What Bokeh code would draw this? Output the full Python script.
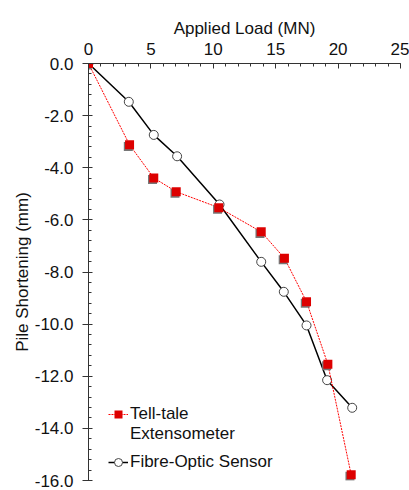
from bokeh.plotting import figure
from bokeh.models import Range1d, LinearAxis, FixedTicker, NumeralTickFormatter, Legend, LegendItem, ColumnDataSource
from bokeh.transform import dodge
from bokeh.embed import file_html
from bokeh.resources import INLINE

# Data
tt_load = [0, 3.29, 5.23, 7.03, 10.44, 13.84, 15.7, 17.47, 19.18, 21.05]
tt_short = [0, -3.12, -4.39, -4.92, -5.53, -6.46, -7.47, -9.14, -11.54, -15.78]
fo_load = [0, 3.23, 5.23, 7.1, 10.5, 13.84, 15.65, 17.47, 19.12, 21.13]
fo_short = [0, -1.47, -2.74, -3.56, -5.41, -7.61, -8.76, -10.05, -12.15, -13.21]
x_ticks = [0, 5, 10, 15, 20, 25]
y_ticks = [0, -2, -4, -6, -8, -10, -12, -14, -16]

FONT = "Liberation Sans"
FS = "17px"

p = figure(width=409, height=490, output_backend="svg", toolbar_location=None,
           x_range=Range1d(0, 25), y_range=Range1d(-16, 0),
           x_axis_location=None, y_axis_location=None,
           min_border_left=88, min_border_right=9, min_border_top=63, min_border_bottom=10)
p.outline_line_color = None
p.xgrid.visible = False
p.ygrid.visible = False

xa = LinearAxis(axis_label="Applied Load (MN)", ticker=FixedTicker(ticks=x_ticks, minor_ticks=list(range(0, 26))))
xa.major_tick_in = 5
xa.major_tick_out = 0
xa.minor_tick_in = 3
xa.minor_tick_out = 0
xa.axis_line_color = "#333333"
xa.major_tick_line_color = "#333333"
xa.minor_tick_line_color = "#333333"
xa.major_label_text_font = FONT
xa.major_label_text_font_size = FS
xa.major_label_text_color = "#111111"
xa.axis_label_text_font = FONT
xa.axis_label_text_font_size = FS
xa.axis_label_text_font_style = "normal"
xa.axis_label_text_color = "#111111"
xa.axis_label_standoff = 2
xa.major_label_standoff = 9
p.add_layout(xa, "above")

ya = LinearAxis(axis_label="Pile Shortening (mm)", ticker=FixedTicker(ticks=y_ticks, minor_ticks=[-0.4 * i for i in range(41)]),
                formatter=NumeralTickFormatter(format="0.0"))
ya.major_tick_in = 4
ya.major_tick_out = 6
ya.minor_tick_in = 3
ya.minor_tick_out = 0
ya.axis_line_color = "#333333"
ya.major_tick_line_color = "#333333"
ya.minor_tick_line_color = "#333333"
ya.major_label_text_font = FONT
ya.major_label_text_font_size = FS
ya.major_label_text_color = "#111111"
ya.axis_label_text_font = FONT
ya.axis_label_text_font_size = FS
ya.axis_label_text_font_style = "normal"
ya.axis_label_text_color = "#111111"
ya.axis_label_standoff = 0
ya.major_label_standoff = 9
p.add_layout(ya, "left")

tt = ColumnDataSource(dict(x=tt_load, y=tt_short))
fo = ColumnDataSource(dict(x=fo_load, y=fo_short))

# Fibre-optic
fo_line = p.line("x", "y", source=fo, line_color="black", line_width=1.5)
fo_mark = p.scatter("x", "y", source=fo, marker="circle", size=9, fill_color="white",
                    line_color="#444444", line_width=1)

# Tell-tale
tt_line = p.line("x", "y", source=tt, line_color="red", line_width=1, line_dash="2 1")
p.scatter(dodge("x", -0.1), dodge("y", -0.06), source=tt, marker="square", size=9,
          fill_color="#777777", line_color=None)
tt_mark = p.scatter("x", "y", source=tt, marker="square", size=9, fill_color="#dd0000", line_color=None)


def style(leg):
    leg.background_fill_alpha = 0
    leg.border_line_color = None
    leg.label_text_font = FONT
    leg.label_text_font_size = FS
    leg.label_text_color = "#111111"
    leg.label_height = 20
    leg.glyph_height = 20
    leg.glyph_width = 20
    leg.label_standoff = 2
    leg.spacing = 0
    leg.padding = 0
    leg.margin = 0


legend1 = Legend(items=[
    LegendItem(label="Tell-tale", renderers=[tt_line, tt_mark]),
    LegendItem(label="Extensometer", renderers=[]),
], location=(20, 36))
style(legend1)
p.add_layout(legend1, "center")

legend2 = Legend(items=[
    LegendItem(label="Fibre-Optic Sensor", renderers=[fo_line, fo_mark]),
], location=(20, 8))
style(legend2)
p.add_layout(legend2, "center")

open("out.html", "w").write(file_html(p, INLINE))
